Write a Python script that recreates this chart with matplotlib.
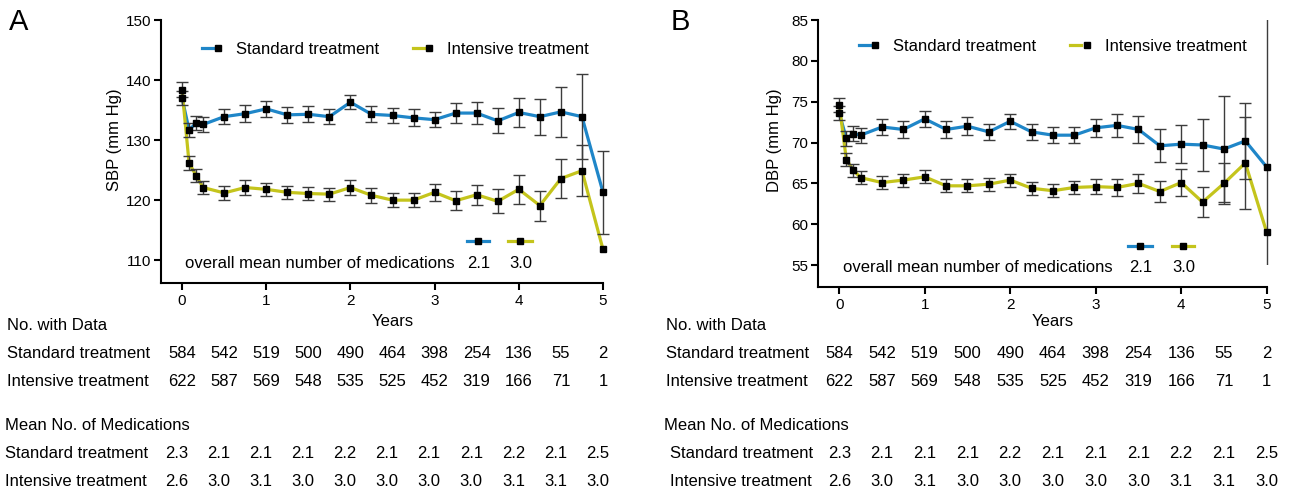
import numpy as np
import matplotlib
matplotlib.use("Agg")
import matplotlib.pyplot as plt
from matplotlib.lines import Line2D
from matplotlib.transforms import blended_transform_factory, Bbox, TransformedBbox
from matplotlib.legend_handler import HandlerTuple

plt.rcParams['font.family'] = ['Liberation Sans', 'DejaVu Sans']

# ---------------- data ----------------
years = [0, 0.0833, 0.1667, 0.25, 0.5, 0.75, 1.0, 1.25, 1.5, 1.75, 2.0, 2.25, 2.5,
         2.75, 3.0, 3.25, 3.5, 3.75, 4.0, 4.25, 4.5, 4.75, 5.0]

sbp_std = [137.0, 131.7, 132.8, 132.6, 133.9, 134.4, 135.2, 134.2, 134.3, 133.9, 136.3, 134.3,
           134.1, 133.7, 133.4, 134.5, 134.5, 133.2, 134.6, 133.9, 134.7, 133.9, 121.3]
sbp_std_err = [1.2, 1.2, 1.2, 1.2, 1.3, 1.4, 1.3, 1.3, 1.3, 1.3, 1.2, 1.3,
               1.3, 1.4, 1.3, 1.6, 1.9, 2.1, 2.4, 3.0, 4.2, 7.1, 6.9]
sbp_int = [138.4, 126.2, 124.1, 122.1, 121.2, 122.1, 121.8, 121.3, 121.1, 121.0, 122.1, 120.8,
           120.0, 120.0, 121.3, 119.9, 120.9, 119.8, 121.8, 119.1, 123.6, 124.9, 111.8]
sbp_int_err = [1.3, 1.2, 1.1, 1.1, 1.1, 1.2, 1.1, 1.1, 1.1, 1.1, 1.2, 1.2,
               1.2, 1.2, 1.4, 1.6, 1.7, 2.0, 2.4, 2.5, 3.3, 4.2, np.nan]

dbp_std = [73.6, 70.5, 71.1, 70.9, 71.9, 71.6, 72.9, 71.6, 72.0, 71.3, 72.6, 71.3,
           70.9, 70.9, 71.8, 72.1, 71.6, 69.6, 69.8, 69.7, 69.2, 70.2, 67.0]
dbp_std_err = [0.9, 0.9, 0.9, 0.9, 1.0, 1.0, 1.0, 1.0, 1.1, 1.0, 0.9, 1.0,
               1.0, 1.0, 1.1, 1.4, 1.7, 2.0, 2.3, 3.2, 6.5, 4.7, 20.0]
dbp_int = [74.6, 67.9, 66.6, 65.7, 65.1, 65.4, 65.8, 64.7, 64.7, 64.9, 65.4, 64.4,
           64.1, 64.5, 64.6, 64.5, 65.0, 64.0, 65.1, 62.7, 65.0, 67.5, 59.0]
dbp_int_err = [0.9, 0.8, 0.8, 0.8, 0.8, 0.8, 0.8, 0.8, 0.8, 0.8, 0.8, 0.8,
               0.8, 0.8, 0.9, 1.0, 1.15, 1.3, 1.65, 1.85, 2.5, 5.6, np.nan]

table_years = [0, 0.5, 1, 1.5, 2, 2.5, 3, 3.5, 4, 4.5, 5]
n_std = ['584', '542', '519', '500', '490', '464', '398', '254', '136', '55', '2']
n_int = ['622', '587', '569', '548', '535', '525', '452', '319', '166', '71', '1']
med_std = ['2.3', '2.1', '2.1', '2.1', '2.2', '2.1', '2.1', '2.1', '2.2', '2.1', '2.5']
med_int = ['2.6', '3.0', '3.1', '3.0', '3.0', '3.0', '3.0', '3.0', '3.1', '3.1', '3.0']
overall_med = ['2.1', '3.0']
series_names = ['Standard treatment', 'Intensive treatment']

# ---------------- style ----------------
BLUE = '#1f86c8'
YEL = '#c4c41c'
ERRC = '#3c3c3c'
W, H = 1298, 495

fig = plt.figure(figsize=(W / 100, H / 100), dpi=100)


def fx(px):
    return px / W


def fy(py):
    return 1 - py / H


def panel(rect_px, ylim, yticks, clip_y, ylabel, std, std_err, intv, int_err,
          letter, letter_x, leg_px, ann_px, med_lines_px, table_cfg):
    l, t, r, b = rect_px
    ax = fig.add_axes([fx(l), fy(b), fx(r - l), (b - t) / H])
    ax.set_xlim(table_cfg['xlim'])
    ax.set_ylim(ylim)
    ax.set_yticks(yticks)
    ax.set_xticks([0, 1, 2, 3, 4, 5])
    for s in ['top', 'right']:
        ax.spines[s].set_visible(False)
    for s in ['left', 'bottom']:
        ax.spines[s].set_linewidth(1.5)
    ax.tick_params(axis='both', length=5, width=1.5, labelsize=11, pad=2)
    ax.tick_params(axis='x', pad=3)

    clipbox = TransformedBbox(Bbox([[-0.5, clip_y[0]], [5.5, clip_y[1]]]), ax.transData)

    handles = []
    for vals, errs, col in [(std, std_err, BLUE), (intv, int_err, YEL)]:
        ln, = ax.plot(years, vals, color=col, lw=2.3, zorder=2, clip_on=False,
                      solid_joinstyle='round')
        eb = ax.errorbar(years, vals, yerr=errs, fmt='none', ecolor=ERRC,
                         elinewidth=1.0, capsize=4.5, capthick=1.0, zorder=3)
        for art in list(eb.lines[1]) + list(eb.lines[2]):
            art.set_clip_box(clipbox)
            art.set_clip_on(True)
        mk, = ax.plot(years, vals, ls='none', marker='s', ms=3.8, color='black',
                      zorder=4, clip_on=False)
        handles.append((ln, mk))

    ax.legend(handles, series_names, handler_map={tuple: HandlerTuple(ndivide=None)},
              loc='center left', bbox_to_anchor=(fx(leg_px[0]), fy(leg_px[1])),
              bbox_transform=fig.transFigure, frameon=False, ncol=2, fontsize=12,
              handlelength=1.3, handletextpad=0.75, columnspacing=2.05,
              borderpad=0, borderaxespad=0)

    fig.text(fx(table_cfg['ylab_x']), fy(140), ylabel, rotation=90, fontsize=12,
             ha='center', va='center')
    fig.text(fx(letter_x), fy(22.5), letter, fontsize=21, ha='center', va='center')

    # overall mean annotation
    fig.text(fx(ann_px[0]), fy(ann_px[1]), 'overall mean number of medications',
             fontsize=12, ha='left', va='center')
    for (x0, x1), col, lab in zip(med_lines_px['segs'], [BLUE, YEL], overall_med):
        yl = med_lines_px['y']
        fig.add_artist(Line2D([fx(x0), fx((x0 + x1) / 2), fx(x1)], [fy(yl)] * 3,
                              transform=fig.transFigure, color=col, lw=2.3,
                              marker='s', ms=3.8, mfc='black', mec='black',
                              markevery=[1]))
        fig.text(fx((x0 + x1) / 2 + 1), fy(ann_px[1]), lab, fontsize=12,
                 ha='center', va='center')

    # table below
    tr = blended_transform_factory(ax.transData, fig.transFigure)
    fig.text(2.5, fy(321), 'Years', transform=tr, fontsize=12, ha='center', va='center')
    lx = table_cfg['label_x']
    fig.text(fx(lx), fy(326), 'No. with Data', fontsize=12, ha='left', va='center')
    fig.text(fx(lx), fy(354), series_names[0], fontsize=12, ha='left', va='center')
    fig.text(fx(lx), fy(382), series_names[1], fontsize=12, ha='left', va='center')
    fig.text(fx(lx - 2), fy(425), 'Mean No. of Medications', fontsize=12, ha='left', va='center')
    fig.text(fx(table_cfg['med_label_x']), fy(454), series_names[0], fontsize=12,
             ha='left', va='center')
    fig.text(fx(table_cfg['med_label_x']), fy(482), series_names[1], fontsize=12,
             ha='left', va='center')
    off = table_cfg['med_off']
    for ty, a, b_, c, d in zip(table_years, n_std, n_int, med_std, med_int):
        fig.text(ty, fy(354), a, transform=tr, fontsize=12, ha='center', va='center')
        fig.text(ty, fy(382), b_, transform=tr, fontsize=12, ha='center', va='center')
        fig.text(ty + off, fy(454), c, transform=tr, fontsize=12, ha='center', va='center')
        fig.text(ty + off, fy(482), d, transform=tr, fontsize=12, ha='center', va='center')
    return ax


panel((161, 20, 603, 283), (106.2, 150), [110, 120, 130, 140, 150], (110, 150),
      'SBP (mm Hg)', sbp_std, sbp_std_err, sbp_int, sbp_int_err,
      'A', 19, (201.7, 49), (185, 263),
      {'segs': [(467, 489), (508, 532)], 'y': 240.5},
      {'xlim': (-0.25, 5.0), 'ylab_x': 115, 'label_x': 7, 'med_label_x': 5, 'med_off': -0.065})

panel((818.3, 20, 1266.7, 286.7), (52.35, 85), [55, 60, 65, 70, 75, 80, 85], (55, 85),
      'DBP (mm Hg)', dbp_std, dbp_std_err, dbp_int, dbp_int_err,
      'B', 680, (859, 46.5), (842.7, 267),
      {'segs': [(1128, 1152), (1172, 1194)], 'y': 245.7},
      {'xlim': (-0.245, 5.0), 'ylab_x': 775, 'label_x': 666, 'med_label_x': 670, 'med_off': 0.0})

fig.savefig('out.png', dpi=100)
